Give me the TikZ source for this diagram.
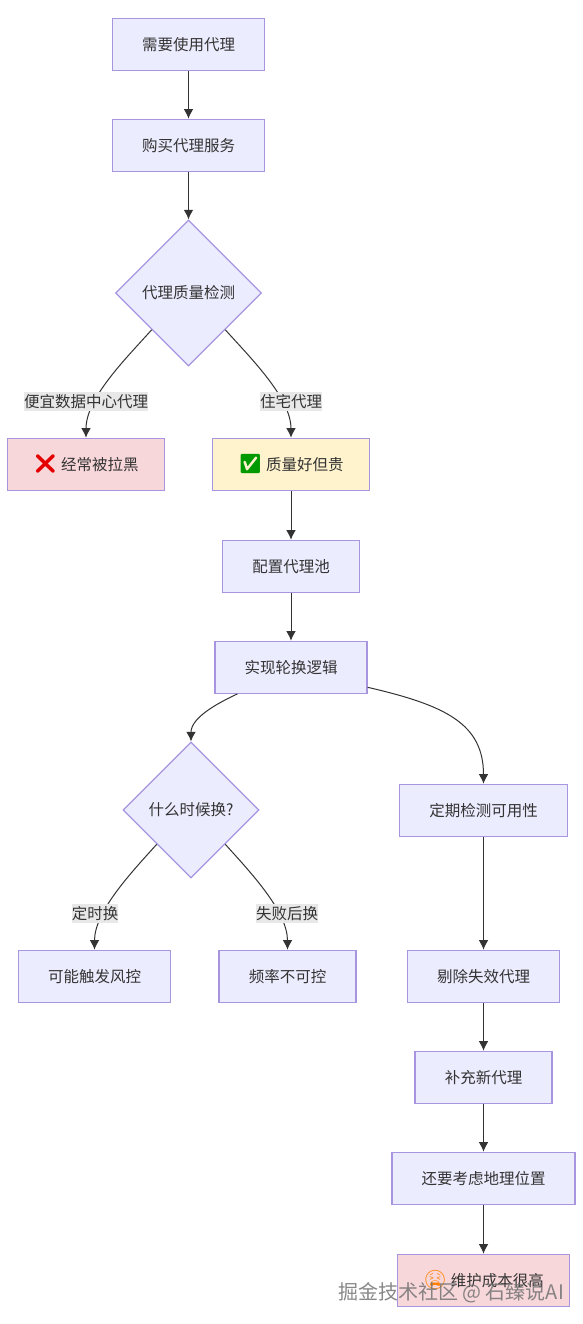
\documentclass[tikz,border=0pt]{standalone}
\usepackage{fontspec}
\usepackage{xcolor}
\usepackage{tikz}
\usetikzlibrary{shapes.geometric, arrows.meta}
\setmainfont{Noto Sans CJK SC}
\newfontfamily\emojifont{Noto Emoji}
\definecolor{boxfill}{HTML}{ECECFF}
\definecolor{boxline}{HTML}{A795E0}
\definecolor{redfill}{HTML}{F8D7DA}
\definecolor{yellowfill}{HTML}{FFF3CD}
\definecolor{labelfill}{HTML}{E8E8E8}
\definecolor{inkdark}{HTML}{333333}
\tikzset{
    procbox/.style={draw=boxline, fill=boxfill, line width=1.2pt, minimum height=52pt, inner sep=0pt, text=inkdark, font=\fontsize{15.5}{18}\selectfont},
    choicebox/.style={procbox, diamond, aspect=1},
    edgetag/.style={fill=labelfill, text=inkdark, inner xsep=0pt, inner ysep=2.5pt, font=\fontsize{15.5}{18}\selectfont},
    flow/.style={->, line width=1pt, draw=inkdark}
}

\begin{document}
\begin{tikzpicture}[>={Latex[length=9.5pt,width=9.5pt]}, x=1pt, y=-1pt]
    \useasboundingbox (0,0) rectangle (583,1324);
    % 主干节点
    \node[procbox, minimum width=152pt] (need) at (188.5,44.3) {需要使用代理};
    \node[procbox, minimum width=152pt] (buy) at (188.5,145.3) {购买代理服务};
    \node[choicebox, minimum width=146pt, minimum height=146pt] (check) at (188.5,293) {代理质量检测};
    \node[procbox, fill=redfill, minimum width=157pt] (cheap) at (86,464.3) {{\emojifont\bfseries\color{red!90!black}\fontsize{19}{19}\selectfont ❌} 经常被拉黑};
    \node[procbox, fill=yellowfill, minimum width=157pt] (resi) at (291,464.3) {{\emojifont\color{green!60!black}\fontsize{19}{19}\selectfont ✅} 质量好但贵};
    \node[procbox, minimum width=137pt] (pool) at (291,566.3) {配置代理池};
    \node[procbox, minimum width=152pt] (rotate) at (291,667.3) {实现轮换逻辑};
    % 左侧分支
    \node[choicebox, minimum width=136pt, minimum height=136pt] (when) at (191,810) {什么时候换?};
    \node[procbox, minimum width=152pt] (risk) at (94.5,976.3) {可能触发风控};
    \node[procbox, minimum width=137pt] (freq) at (287.5,976.3) {频率不可控};
    % 右侧分支
    \node[procbox, minimum width=168pt] (probe) at (483.5,810.3) {定期检测可用性};
    \node[procbox, minimum width=152pt] (drop) at (483.5,976.3) {剔除失效代理};
    \node[procbox, minimum width=137pt] (refill) at (483.5,1077.3) {补充新代理};
    \node[procbox, minimum width=183pt] (geo) at (483.5,1178.3) {还要考虑地理位置};
    \node[procbox, fill=redfill, minimum width=172pt] (cost) at (483.5,1280.3) {{\emojifont\color{orange}\fontsize{19}{19}\selectfont 😫} 维护成本很高};
    % 连线
    \draw[flow] (need) -- (buy);
    \draw[flow] (buy) -- (check);
    \draw[flow] (check.south west) to[out=-132, in=90, looseness=0.8] (cheap.north);
    \draw[flow] (check.south east) to[out=-48, in=90, looseness=0.8] (resi.north);
    \draw[flow] (resi) -- (pool);
    \draw[flow] (pool) -- (rotate);
    \draw[flow] ([xshift=23pt]rotate.south west) to[out=205, in=90, looseness=0.9] (when.north);
    \draw[flow] ([yshift=-20pt]rotate.east) .. controls +(78,18) and +(0,-60) .. (probe.north);
    \draw[flow] (when.south west) to[out=-132, in=90, looseness=0.8] (risk.north);
    \draw[flow] (when.south east) to[out=-48, in=90, looseness=0.8] (freq.north);
    \draw[flow] (probe) -- (drop);
    \draw[flow] (drop) -- (refill);
    \draw[flow] (refill) -- (geo);
    \draw[flow] (geo) -- (cost);
    % 连线标签
    \node[edgetag] (tagcheap) at (86,401.5) {便宜数据中心代理};
    \node[edgetag] (tagresi) at (291,401.5) {住宅代理};
    \node[edgetag] (tagrisk) at (95,913.5) {定时换};
    \node[edgetag] (tagfreq) at (287,913.5) {失败后换};
    % 水印
    \node[text=black!55, opacity=0.85, inner sep=0pt, font=\fontsize{20}{24}\selectfont] (mark) at (451,1293) {掘金技术社区 @ 石臻说AI};
\end{tikzpicture}
\end{document}
